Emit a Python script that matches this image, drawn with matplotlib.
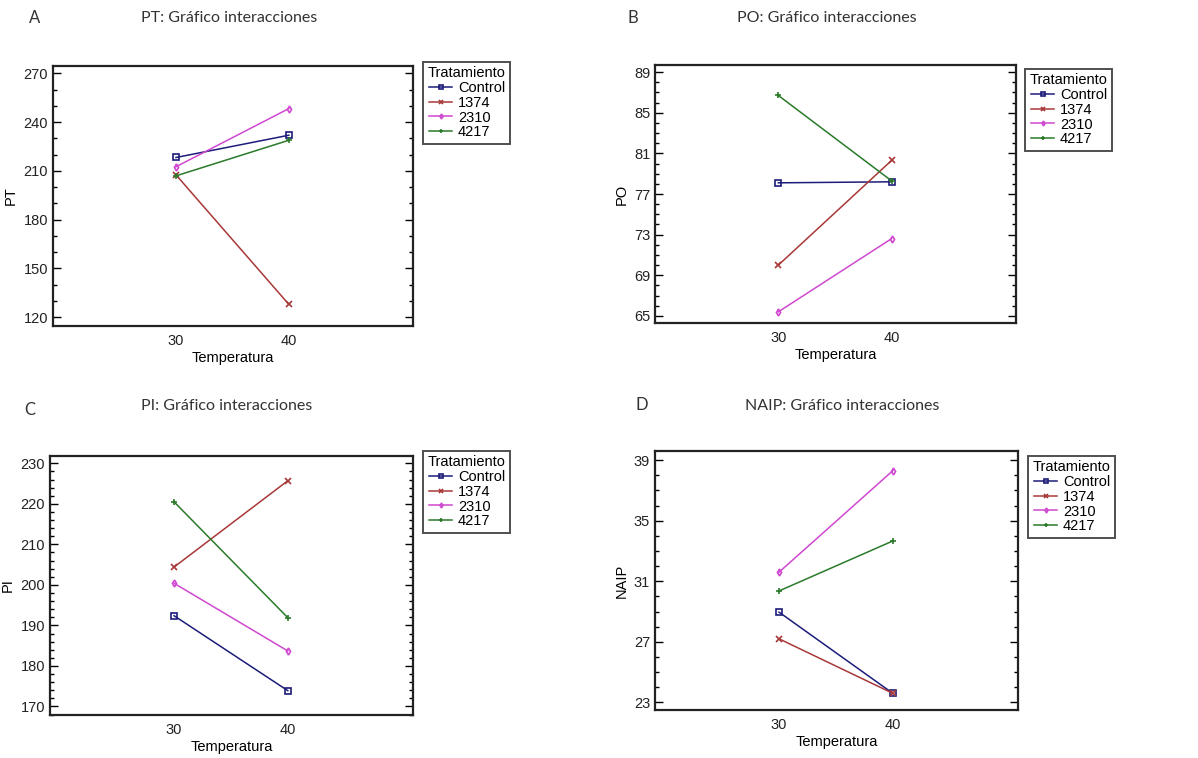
import numpy as np
import matplotlib
matplotlib.use('Agg')
import matplotlib.pyplot as plt
from matplotlib.ticker import MultipleLocator

# temperature levels on x axis
temperatures = [30, 40]
treatments = ['Control', '1374', '2310', '4217']

# PT panel
pt_control = [218.2, 231.9]
pt_1374 = [207.5, 127.8]
pt_2310 = [212.5, 248.3]
pt_4217 = [206.9, 228.8]

# PO panel
po_control = [78.1, 78.2]
po_1374 = [70.0, 80.3]
po_2310 = [65.4, 72.6]
po_4217 = [86.7, 78.3]

# PI panel
pi_control = [192.4, 173.9]
pi_1374 = [204.4, 225.7]
pi_2310 = [200.4, 183.7]
pi_4217 = [220.5, 191.9]

# NAIP panel
naip_control = [28.96, 23.6]
naip_1374 = [27.2, 23.6]
naip_2310 = [31.6, 38.3]
naip_4217 = [30.36, 33.66]

colors = ['#1c1c7a', '#a83838', '#d048d0', '#2a7a2a']
markers = ['s', 'x', 'd', '+']
msizes = [4, 4, 3.5, 5]

panels = [
    ('A', 'PT: Gráfico interacciones', 'PT', [pt_control, pt_1374, pt_2310, pt_4217],
     (114.5, 274.5), np.arange(120, 271, 30), 10),
    ('B', 'PO: Gráfico interacciones', 'PO', [po_control, po_1374, po_2310, po_4217],
     (64.3, 89.7), np.arange(65, 90, 4), 1),
    ('C', 'PI: Gráfico interacciones', 'PI', [pi_control, pi_1374, pi_2310, pi_4217],
     (167.9, 231.8), np.arange(170, 231, 10), 2),
    ('D', 'NAIP: Gráfico interacciones', 'NAIP', [naip_control, naip_1374, naip_2310, naip_4217],
     (22.5, 39.6), np.arange(23, 40, 4), 1),
]

# axes rectangles in figure pixels (left, top, right, bottom)
W, H = 1198, 758
rects = [(53, 66, 413, 326), (655, 65, 1016, 323), (50, 456, 413, 715), (655, 451, 1018, 710)]
legend_pos = [(423, 62), (1025, 69), (423, 451), (1028, 456)]
letter_pos = [(35, 18), (633, 18), (30, 410), (642, 405)]
title_pos = [(229, 18), (827, 18), (227, 406), (842, 406)]

fig = plt.figure(figsize=(W / 100, H / 100), dpi=100)

for (letter, title, ylabel, series, ylim, yticks, minor), r, lgp, ltp, ttp in zip(
        panels, rects, legend_pos, letter_pos, title_pos):
    l, t, rr, b = r
    ax = fig.add_axes([l / W, 1 - b / H, (rr - l) / W, (b - t) / H])
    for name, vals, c, m, ms in zip(treatments, series, colors, markers, msizes):
        ax.plot(temperatures, vals, color=c, lw=1.1, marker=m, ms=ms,
                mfc='none' if m in ('s', 'd') else c, mec=c, mew=1.2, label=name)
    ax.set_xlim(19.1, 51)
    ax.set_ylim(*ylim)
    ax.set_xticks(temperatures)
    ax.set_yticks(yticks)
    ax.yaxis.set_minor_locator(MultipleLocator(minor))
    ax.tick_params(axis='y', which='both', direction='in', left=True, right=True)
    ax.tick_params(axis='y', which='major', length=6, width=1)
    ax.tick_params(axis='y', which='minor', length=3, width=1)
    ax.tick_params(axis='x', length=0, pad=6)
    ax.tick_params(labelsize=10.5)
    for lab in ax.get_xticklabels() + ax.get_yticklabels():
        lab.set_fontfamily('Liberation Sans')
        lab.set_color('#222222')
    for s in ax.spines.values():
        s.set_linewidth(1.6)
        s.set_color('#222222')
    ax.set_xlabel('Temperatura', fontsize=10.5, family='Liberation Sans', labelpad=2)
    ax.set_ylabel(ylabel, fontsize=10.5, family='Liberation Sans', labelpad=4)

    leg = ax.legend(title='Tratamiento', loc='upper left',
                    bbox_to_anchor=(lgp[0] / W, 1 - lgp[1] / H), bbox_transform=fig.transFigure,
                    frameon=True, fancybox=False, borderpad=0.3, labelspacing=0.05,
                    handlelength=1.6, handletextpad=0.4, borderaxespad=0,
                    prop={'family': 'Liberation Sans', 'size': 10.5}, markerscale=0.7)
    leg.get_title().set_fontfamily('Liberation Sans')
    leg.get_title().set_fontsize(10.5)
    leg._legend_box.align = 'right'
    leg.get_frame().set_edgecolor('#222222')
    leg.get_frame().set_linewidth(1.4)

    fig.text(ttp[0] / W, 1 - ttp[1] / H, title, ha='center', va='center',
             fontsize=11.5, family='Lato', color='#333333')
    fig.text(ltp[0] / W, 1 - ltp[1] / H, letter, ha='center', va='center',
             fontsize=12, family='Lato', color='#333333')

fig.savefig('out.png', dpi=100)
